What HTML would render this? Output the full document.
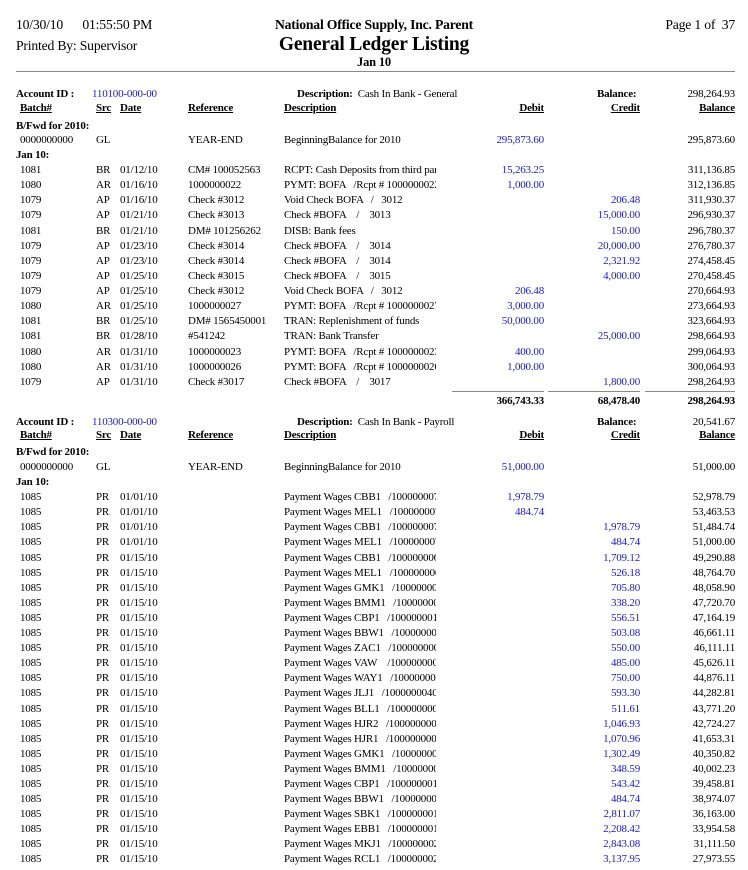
<!DOCTYPE html>
<html><head><meta charset="utf-8"><style>
body{margin:0;width:748px;height:870px;background:#fff;position:relative;overflow:hidden;font-family:"Liberation Serif",serif;font-size:11px;color:#000;letter-spacing:-0.2px}
.a{position:absolute;line-height:14px;white-space:nowrap}
.r{position:absolute;left:0;width:748px;height:14px;line-height:14px;white-space:nowrap}
.r span{position:absolute;top:0}
.b{left:20px}.s{left:96px}.d{left:120px}.f{left:188px}.e{left:284px;width:152px;overflow:hidden}
.db{right:204px;color:#1a1acc}.cr{right:108px;color:#1a1acc}.bl{right:13px}
.h span{font-weight:bold;text-decoration:underline}
.h .db,.h .cr{color:#000}
.bold{font-weight:bold}
.blue{color:#1a1acc}
.hd{font-size:13.7px;line-height:16px}
</style></head><body>
<div class="a hd" style="left:16px;top:17px">10/30/10 &nbsp;&nbsp;&nbsp;&nbsp;&nbsp;01:55:50 PM</div>
<div class="a hd" style="left:16px;top:38px">Printed By: Supervisor</div>
<div class="a bold hd" style="left:0;width:748px;text-align:center;top:17px">National Office Supply, Inc. Parent</div>
<div class="a bold" style="left:0;width:748px;text-align:center;top:34px;font-size:19.5px;line-height:22px">General Ledger Listing</div>
<div class="a bold" style="left:0;width:748px;text-align:center;top:55px;font-size:12.5px">Jan 10</div>
<div class="a hd" style="right:13px;top:17px">Page 1 of &nbsp;37</div>
<div style="position:absolute;left:16px;top:71px;width:719px;height:1px;background:#888"></div>

<!-- Section 1 -->
<div class="a bold" style="left:16px;top:87px">Account ID :</div>
<div class="a blue" style="left:92px;top:87px">110100-000-00</div>
<div class="a" style="left:297px;top:87px"><b>Description:</b>&nbsp; Cash In Bank - General</div>
<div class="a bold" style="left:597px;top:87px">Balance:</div>
<div class="a" style="right:13px;top:87px">298,264.93</div>
<div class="r h" style="top:101px"><span class="b">Batch#</span><span class="s">Src</span><span class="d">Date</span><span class="f">Reference</span><span class="e" style="overflow:visible">Description</span><span class="db">Debit</span><span class="cr">Credit</span><span class="bl">Balance</span></div>
<div class="a bold" style="left:16px;top:119px">B/Fwd for 2010:</div>
<div class="r" style="top:133px"><span class="b">0000000000</span><span class="s">GL</span><span class="f">YEAR-END</span><span class="e">BeginningBalance for 2010</span><span class="db">295,873.60</span><span class="bl">295,873.60</span></div>
<div class="a bold" style="left:16px;top:148px">Jan 10:</div>

<div class="r" style="top:163px"><span class="b">1081</span><span class="s">BR</span><span class="d">01/12/10</span><span class="f">CM# 100052563</span><span class="e">RCPT: Cash Deposits from third part</span><span class="db">15,263.25</span><span class="bl">311,136.85</span></div>
<div class="r" style="top:178px"><span class="b">1080</span><span class="s">AR</span><span class="d">01/16/10</span><span class="f">1000000022</span><span class="e">PYMT: BOFA &nbsp;&nbsp;/Rcpt # 1000000022</span><span class="db">1,000.00</span><span class="bl">312,136.85</span></div>
<div class="r" style="top:193px"><span class="b">1079</span><span class="s">AP</span><span class="d">01/16/10</span><span class="f">Check #3012</span><span class="e">Void Check BOFA &nbsp;&nbsp;/ &nbsp;&nbsp;3012</span><span class="cr">206.48</span><span class="bl">311,930.37</span></div>
<div class="r" style="top:208px"><span class="b">1079</span><span class="s">AP</span><span class="d">01/21/10</span><span class="f">Check #3013</span><span class="e">Check #BOFA &nbsp;&nbsp;&nbsp;/ &nbsp;&nbsp;&nbsp;3013</span><span class="cr">15,000.00</span><span class="bl">296,930.37</span></div>
<div class="r" style="top:224px"><span class="b">1081</span><span class="s">BR</span><span class="d">01/21/10</span><span class="f">DM# 101256262</span><span class="e">DISB: Bank fees</span><span class="cr">150.00</span><span class="bl">296,780.37</span></div>
<div class="r" style="top:239px"><span class="b">1079</span><span class="s">AP</span><span class="d">01/23/10</span><span class="f">Check #3014</span><span class="e">Check #BOFA &nbsp;&nbsp;&nbsp;/ &nbsp;&nbsp;&nbsp;3014</span><span class="cr">20,000.00</span><span class="bl">276,780.37</span></div>
<div class="r" style="top:254px"><span class="b">1079</span><span class="s">AP</span><span class="d">01/23/10</span><span class="f">Check #3014</span><span class="e">Check #BOFA &nbsp;&nbsp;&nbsp;/ &nbsp;&nbsp;&nbsp;3014</span><span class="cr">2,321.92</span><span class="bl">274,458.45</span></div>
<div class="r" style="top:269px"><span class="b">1079</span><span class="s">AP</span><span class="d">01/25/10</span><span class="f">Check #3015</span><span class="e">Check #BOFA &nbsp;&nbsp;&nbsp;/ &nbsp;&nbsp;&nbsp;3015</span><span class="cr">4,000.00</span><span class="bl">270,458.45</span></div>
<div class="r" style="top:284px"><span class="b">1079</span><span class="s">AP</span><span class="d">01/25/10</span><span class="f">Check #3012</span><span class="e">Void Check BOFA &nbsp;&nbsp;/ &nbsp;&nbsp;3012</span><span class="db">206.48</span><span class="bl">270,664.93</span></div>
<div class="r" style="top:299px"><span class="b">1080</span><span class="s">AR</span><span class="d">01/25/10</span><span class="f">1000000027</span><span class="e">PYMT: BOFA &nbsp;&nbsp;/Rcpt # 1000000027</span><span class="db">3,000.00</span><span class="bl">273,664.93</span></div>
<div class="r" style="top:314px"><span class="b">1081</span><span class="s">BR</span><span class="d">01/25/10</span><span class="f">DM# 1565450001</span><span class="e">TRAN: Replenishment of funds</span><span class="db">50,000.00</span><span class="bl">323,664.93</span></div>
<div class="r" style="top:329px"><span class="b">1081</span><span class="s">BR</span><span class="d">01/28/10</span><span class="f">#541242</span><span class="e">TRAN: Bank Transfer</span><span class="cr">25,000.00</span><span class="bl">298,664.93</span></div>
<div class="r" style="top:345px"><span class="b">1080</span><span class="s">AR</span><span class="d">01/31/10</span><span class="f">1000000023</span><span class="e">PYMT: BOFA &nbsp;&nbsp;/Rcpt # 1000000023</span><span class="db">400.00</span><span class="bl">299,064.93</span></div>
<div class="r" style="top:360px"><span class="b">1080</span><span class="s">AR</span><span class="d">01/31/10</span><span class="f">1000000026</span><span class="e">PYMT: BOFA &nbsp;&nbsp;/Rcpt # 1000000026</span><span class="db">1,000.00</span><span class="bl">300,064.93</span></div>
<div class="r" style="top:375px"><span class="b">1079</span><span class="s">AP</span><span class="d">01/31/10</span><span class="f">Check #3017</span><span class="e">Check #BOFA &nbsp;&nbsp;&nbsp;/ &nbsp;&nbsp;&nbsp;3017</span><span class="cr">1,800.00</span><span class="bl">298,264.93</span></div>

<div style="position:absolute;left:452px;top:391px;width:92px;height:1px;background:#888"></div>
<div style="position:absolute;left:548px;top:391px;width:92px;height:1px;background:#888"></div>
<div style="position:absolute;left:645px;top:391px;width:90px;height:1px;background:#888"></div>
<div class="r bold" style="top:394px"><span style="right:204px">366,743.33</span><span style="right:108px">68,478.40</span><span style="right:13px">298,264.93</span></div>

<!-- Section 2 -->
<div class="a bold" style="left:16px;top:415px">Account ID :</div>
<div class="a blue" style="left:92px;top:415px">110300-000-00</div>
<div class="a" style="left:297px;top:415px"><b>Description:</b>&nbsp; Cash In Bank - Payroll</div>
<div class="a bold" style="left:597px;top:415px">Balance:</div>
<div class="a" style="right:13px;top:415px">20,541.67</div>
<div class="r h" style="top:428px"><span class="b">Batch#</span><span class="s">Src</span><span class="d">Date</span><span class="f">Reference</span><span class="e" style="overflow:visible">Description</span><span class="db">Debit</span><span class="cr">Credit</span><span class="bl">Balance</span></div>
<div class="a bold" style="left:16px;top:445px">B/Fwd for 2010:</div>
<div class="r" style="top:460px"><span class="b">0000000000</span><span class="s">GL</span><span class="f">YEAR-END</span><span class="e">BeginningBalance for 2010</span><span class="db">51,000.00</span><span class="bl">51,000.00</span></div>
<div class="a bold" style="left:16px;top:475px">Jan 10:</div>

<div class="r" style="top:490px"><span class="b">1085</span><span class="s">PR</span><span class="d">01/01/10</span><span class="e">Payment Wages CBB1 &nbsp;&nbsp;/1000000070</span><span class="db">1,978.79</span><span class="bl">52,978.79</span></div>
<div class="r" style="top:505px"><span class="b">1085</span><span class="s">PR</span><span class="d">01/01/10</span><span class="e">Payment Wages MEL1 &nbsp;&nbsp;/1000000070</span><span class="db">484.74</span><span class="bl">53,463.53</span></div>
<div class="r" style="top:520px"><span class="b">1085</span><span class="s">PR</span><span class="d">01/01/10</span><span class="e">Payment Wages CBB1 &nbsp;&nbsp;/1000000070</span><span class="cr">1,978.79</span><span class="bl">51,484.74</span></div>
<div class="r" style="top:535px"><span class="b">1085</span><span class="s">PR</span><span class="d">01/01/10</span><span class="e">Payment Wages MEL1 &nbsp;&nbsp;/1000000070</span><span class="cr">484.74</span><span class="bl">51,000.00</span></div>
<div class="r" style="top:551px"><span class="b">1085</span><span class="s">PR</span><span class="d">01/15/10</span><span class="e">Payment Wages CBB1 &nbsp;&nbsp;/1000000060</span><span class="cr">1,709.12</span><span class="bl">49,290.88</span></div>
<div class="r" style="top:566px"><span class="b">1085</span><span class="s">PR</span><span class="d">01/15/10</span><span class="e">Payment Wages MEL1 &nbsp;&nbsp;/1000000060</span><span class="cr">526.18</span><span class="bl">48,764.70</span></div>
<div class="r" style="top:581px"><span class="b">1085</span><span class="s">PR</span><span class="d">01/15/10</span><span class="e">Payment Wages GMK1 &nbsp;&nbsp;/1000000000</span><span class="cr">705.80</span><span class="bl">48,058.90</span></div>
<div class="r" style="top:596px"><span class="b">1085</span><span class="s">PR</span><span class="d">01/15/10</span><span class="e">Payment Wages BMM1 &nbsp;&nbsp;/1000000000</span><span class="cr">338.20</span><span class="bl">47,720.70</span></div>
<div class="r" style="top:611px"><span class="b">1085</span><span class="s">PR</span><span class="d">01/15/10</span><span class="e">Payment Wages CBP1 &nbsp;&nbsp;/1000000010</span><span class="cr">556.51</span><span class="bl">47,164.19</span></div>
<div class="r" style="top:626px"><span class="b">1085</span><span class="s">PR</span><span class="d">01/15/10</span><span class="e">Payment Wages BBW1 &nbsp;&nbsp;/1000000000</span><span class="cr">503.08</span><span class="bl">46,661.11</span></div>
<div class="r" style="top:641px"><span class="b">1085</span><span class="s">PR</span><span class="d">01/15/10</span><span class="e">Payment Wages ZAC1 &nbsp;&nbsp;/1000000000</span><span class="cr">550.00</span><span class="bl">46,111.11</span></div>
<div class="r" style="top:656px"><span class="b">1085</span><span class="s">PR</span><span class="d">01/15/10</span><span class="e">Payment Wages VAW &nbsp;&nbsp;&nbsp;/1000000000</span><span class="cr">485.00</span><span class="bl">45,626.11</span></div>
<div class="r" style="top:671px"><span class="b">1085</span><span class="s">PR</span><span class="d">01/15/10</span><span class="e">Payment Wages WAY1 &nbsp;&nbsp;/1000000000</span><span class="cr">750.00</span><span class="bl">44,876.11</span></div>
<div class="r" style="top:686px"><span class="b">1085</span><span class="s">PR</span><span class="d">01/15/10</span><span class="e">Payment Wages JLJ1 &nbsp;&nbsp;/1000000040</span><span class="cr">593.30</span><span class="bl">44,282.81</span></div>
<div class="r" style="top:702px"><span class="b">1085</span><span class="s">PR</span><span class="d">01/15/10</span><span class="e">Payment Wages BLL1 &nbsp;&nbsp;/1000000000</span><span class="cr">511.61</span><span class="bl">43,771.20</span></div>
<div class="r" style="top:717px"><span class="b">1085</span><span class="s">PR</span><span class="d">01/15/10</span><span class="e">Payment Wages HJR2 &nbsp;&nbsp;/1000000000</span><span class="cr">1,046.93</span><span class="bl">42,724.27</span></div>
<div class="r" style="top:732px"><span class="b">1085</span><span class="s">PR</span><span class="d">01/15/10</span><span class="e">Payment Wages HJR1 &nbsp;&nbsp;/1000000000</span><span class="cr">1,070.96</span><span class="bl">41,653.31</span></div>
<div class="r" style="top:747px"><span class="b">1085</span><span class="s">PR</span><span class="d">01/15/10</span><span class="e">Payment Wages GMK1 &nbsp;&nbsp;/1000000000</span><span class="cr">1,302.49</span><span class="bl">40,350.82</span></div>
<div class="r" style="top:762px"><span class="b">1085</span><span class="s">PR</span><span class="d">01/15/10</span><span class="e">Payment Wages BMM1 &nbsp;&nbsp;/1000000000</span><span class="cr">348.59</span><span class="bl">40,002.23</span></div>
<div class="r" style="top:777px"><span class="b">1085</span><span class="s">PR</span><span class="d">01/15/10</span><span class="e">Payment Wages CBP1 &nbsp;&nbsp;/1000000010</span><span class="cr">543.42</span><span class="bl">39,458.81</span></div>
<div class="r" style="top:792px"><span class="b">1085</span><span class="s">PR</span><span class="d">01/15/10</span><span class="e">Payment Wages BBW1 &nbsp;&nbsp;/1000000000</span><span class="cr">484.74</span><span class="bl">38,974.07</span></div>
<div class="r" style="top:807px"><span class="b">1085</span><span class="s">PR</span><span class="d">01/15/10</span><span class="e">Payment Wages SBK1 &nbsp;&nbsp;/1000000010</span><span class="cr">2,811.07</span><span class="bl">36,163.00</span></div>
<div class="r" style="top:822px"><span class="b">1085</span><span class="s">PR</span><span class="d">01/15/10</span><span class="e">Payment Wages EBB1 &nbsp;&nbsp;/1000000010</span><span class="cr">2,208.42</span><span class="bl">33,954.58</span></div>
<div class="r" style="top:837px"><span class="b">1085</span><span class="s">PR</span><span class="d">01/15/10</span><span class="e">Payment Wages MKJ1 &nbsp;&nbsp;/1000000020</span><span class="cr">2,843.08</span><span class="bl">31,111.50</span></div>
<div class="r" style="top:852px"><span class="b">1085</span><span class="s">PR</span><span class="d">01/15/10</span><span class="e">Payment Wages RCL1 &nbsp;&nbsp;/1000000020</span><span class="cr">3,137.95</span><span class="bl">27,973.55</span></div>
</body></html>
